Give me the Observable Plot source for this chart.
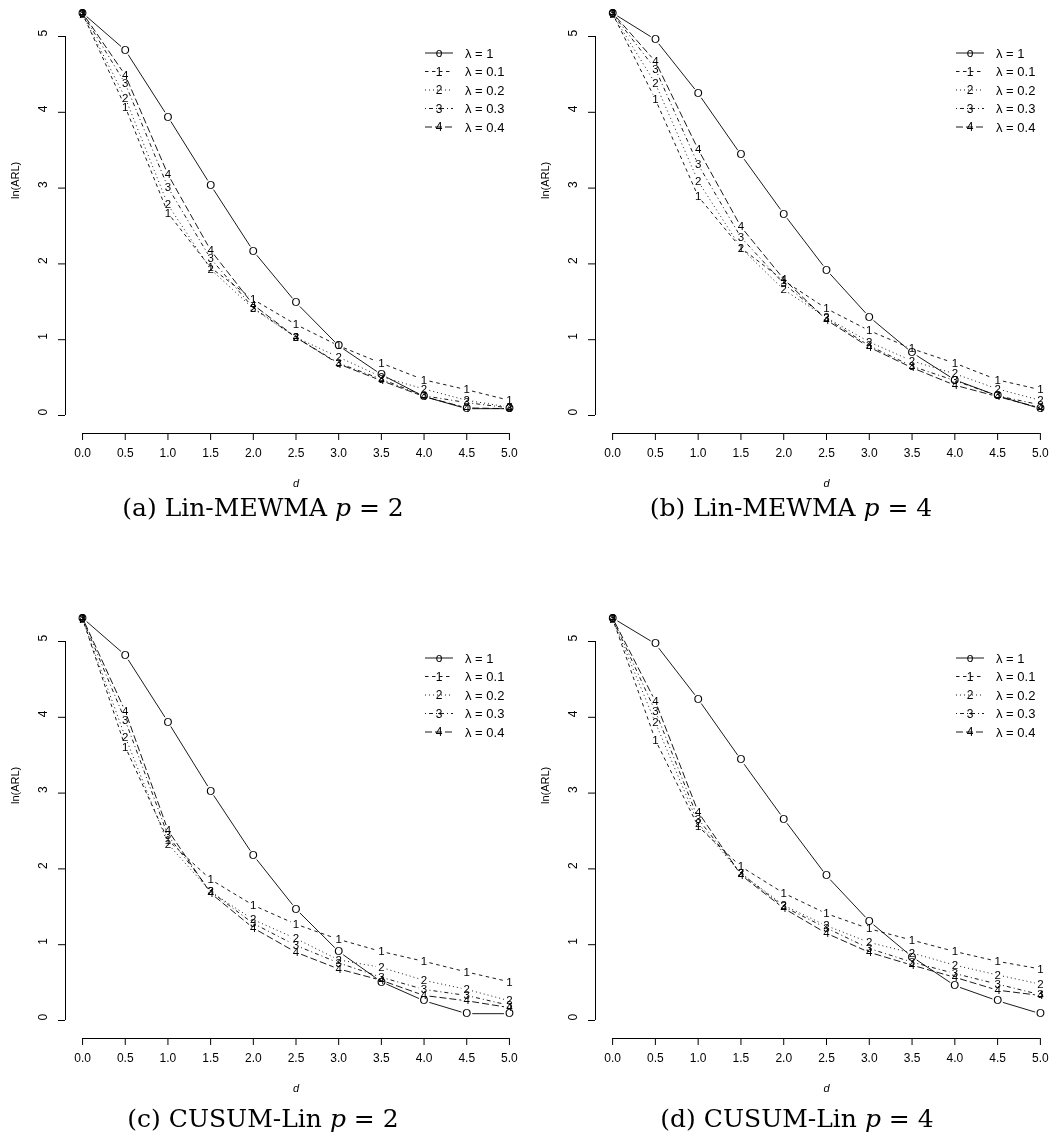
<!DOCTYPE html>
<html><head><meta charset="utf-8">
<script src="https://cdn.jsdelivr.net/npm/d3@7"></script>
<script src="https://cdn.jsdelivr.net/npm/@observablehq/plot@0.6"></script>
<style>
body{margin:0;background:#fff;}
#page{position:relative;width:1057px;height:1146px;background:#fff;overflow:hidden;font-family:"Liberation Sans",Arial,sans-serif;filter:grayscale(100%);}
.panel{position:absolute;}
.panel svg{overflow:visible;}
.caption{position:absolute;font-family:"DejaVu Serif",serif;font-size:25px;white-space:nowrap;transform:translate(-50%,-50%);color:#000;}
.legend{position:absolute;overflow:visible;}
</style></head><body><div id="page"></div>
<script>
// ---- data ----
const shifts = [0, 0.5, 1, 1.5, 2, 2.5, 3, 3.5, 4, 4.5, 5];
const seriesNames = ["λ = 1", "λ = 0.1", "λ = 0.2", "λ = 0.3", "λ = 0.4"];
const plotSymbols = ["O", "1", "2", "3", "4"];
const legendSymbols = ["o", "1", "2", "3", "4"];
const xTicks = [0, 0.5, 1, 1.5, 2, 2.5, 3, 3.5, 4, 4.5, 5];
const yTicks = [0, 1, 2, 3, 4, 5];
const captions = ["(a) Lin-MEWMA <i>p</i> = 2", "(b) Lin-MEWMA <i>p</i> = 4", "(c) CUSUM-Lin <i>p</i> = 2", "(d) CUSUM-Lin <i>p</i> = 4"];

// (a) Lin-MEWMA p=2
const a1  = [5.31, 4.82, 3.94, 3.04, 2.17, 1.49, 0.92, 0.54, 0.25, 0.09, 0.09];
const a01 = [5.30, 4.07, 2.67, 1.95, 1.53, 1.20, 0.92, 0.69, 0.47, 0.34, 0.20];
const a02 = [5.29, 4.19, 2.78, 1.93, 1.41, 1.03, 0.77, 0.51, 0.35, 0.20, 0.11];
const a03 = [5.30, 4.38, 3.01, 2.07, 1.42, 1.03, 0.69, 0.48, 0.26, 0.17, 0.10];
const a04 = [5.31, 4.49, 3.18, 2.18, 1.46, 1.03, 0.68, 0.46, 0.25, 0.10, 0.09];
// (b) Lin-MEWMA p=4
const b1  = [5.31, 4.96, 4.25, 3.44, 2.66, 1.92, 1.30, 0.83, 0.47, 0.26, 0.09];
const b01 = [5.30, 4.17, 2.89, 2.21, 1.78, 1.41, 1.12, 0.88, 0.69, 0.47, 0.34];
const b02 = [5.29, 4.38, 3.09, 2.21, 1.66, 1.29, 0.97, 0.72, 0.55, 0.35, 0.20];
const b03 = [5.30, 4.57, 3.31, 2.35, 1.74, 1.28, 0.92, 0.65, 0.46, 0.26, 0.14];
const b04 = [5.31, 4.67, 3.51, 2.49, 1.80, 1.26, 0.90, 0.63, 0.40, 0.25, 0.10];
// (c) CUSUM-Lin p=2
const c1  = [5.31, 4.82, 3.94, 3.03, 2.18, 1.47, 0.91, 0.51, 0.26, 0.09, 0.09];
const c01 = [5.30, 3.61, 2.38, 1.86, 1.52, 1.27, 1.07, 0.91, 0.78, 0.64, 0.51];
const c02 = [5.29, 3.74, 2.33, 1.70, 1.33, 1.08, 0.80, 0.70, 0.53, 0.41, 0.26];
const c03 = [5.30, 3.96, 2.44, 1.70, 1.28, 0.99, 0.76, 0.57, 0.41, 0.33, 0.20];
const c04 = [5.31, 4.08, 2.51, 1.68, 1.22, 0.90, 0.68, 0.53, 0.33, 0.26, 0.17];
// (d) CUSUM-Lin p=4
const d1  = [5.31, 4.97, 4.24, 3.44, 2.66, 1.91, 1.31, 0.84, 0.46, 0.26, 0.09];
const d01 = [5.30, 3.70, 2.56, 2.03, 1.68, 1.41, 1.21, 1.06, 0.91, 0.78, 0.68];
const d02 = [5.29, 3.93, 2.60, 1.94, 1.52, 1.25, 1.03, 0.89, 0.73, 0.60, 0.48];
const d03 = [5.30, 4.08, 2.66, 1.94, 1.50, 1.22, 0.95, 0.77, 0.62, 0.48, 0.34];
const d04 = [5.31, 4.21, 2.75, 1.92, 1.48, 1.15, 0.90, 0.73, 0.57, 0.40, 0.33];

// ---- styles / layout ----
const dashes = [null, "3.5,3.5", "1,3", "1,3,4,3", "7,3"];
const xDomain = [-0.2, 5.2];
const yDomain = [-0.2375, 5.475];
const panels = [
  {left: 0,   top: 0,   width: 528, ml: 65, mr: 2, series: [a1, a01, a02, a03, a04], cap: captions[0], capX: 263, capY: 507},
  {left: 528, top: 0,   width: 529, ml: 67, mr: 0, series: [b1, b01, b02, b03, b04], cap: captions[1], capX: 263, capY: 507},
  {left: 0,   top: 605, width: 528, ml: 65, mr: 2, series: [c1, c01, c02, c03, c04], cap: captions[2], capX: 263, capY: 513},
  {left: 528, top: 605, width: 529, ml: 67, mr: 0, series: [d1, d01, d02, d03, d04], cap: captions[3], capX: 269, capY: 513}
];

function gapLinks(svg, gap) {
  svg.querySelectorAll('g[aria-label="link"] path').forEach(p => {
    const n = (p.getAttribute("d").match(/-?\d*\.?\d+(?:e[-+]?\d+)?/gi) || []).map(Number);
    if (n.length !== 4) return;
    const [x1, y1, x2, y2] = n;
    const dx = x2 - x1, dy = y2 - y1, len = Math.hypot(dx, dy);
    if (len <= 2 * gap) { p.remove(); return; }
    const ux = dx / len, uy = dy / len;
    p.setAttribute("d", `M${x1 + ux * gap},${y1 + uy * gap}L${x2 - ux * gap},${y2 - uy * gap}`);
  });
}

const page = document.getElementById("page");

panels.forEach((pn) => {
  const div = document.createElement("div");
  div.className = "panel";
  div.style.left = pn.left + "px";
  div.style.top = pn.top + "px";
  div.style.width = pn.width + "px";
  div.style.height = "540px";

  const marks = [];
  pn.series.forEach((vals, si) => {
    const pts = shifts.map((x, i) => ({x, y: vals[i]}));
    const segs = d3.pairs(pts).map(([p, q]) => ({x1: p.x, y1: p.y, x2: q.x, y2: q.y}));
    const opts = {x1: "x1", y1: "y1", x2: "x2", y2: "y2", stroke: "#000", strokeWidth: 0.9};
    if (dashes[si]) opts.strokeDasharray = dashes[si];
    marks.push(Plot.link(segs, opts));
    marks.push(Plot.text(pts, {x: "x", y: "y", text: () => plotSymbols[si], fontSize: 11.5, fill: "#000"}));
  });
  // axes
  marks.push(Plot.ruleY([yDomain[0]], {x1: xTicks[0], x2: xTicks[xTicks.length - 1], stroke: "#000", strokeWidth: 1}));
  marks.push(Plot.axisX({ticks: xTicks, tickFormat: d3.format(".1f"), tickSize: 7, tickPadding: 8, fontSize: 12, label: null}));
  marks.push(Plot.ruleX([xDomain[0]], {y1: yTicks[0], y2: yTicks[yTicks.length - 1], stroke: "#000", strokeWidth: 1}));
  marks.push(Plot.axisY({ticks: yTicks, tickSize: 7, tickFormat: () => "", label: null}));
  marks.push(Plot.text(yTicks, {y: d => d, text: d => String(d), frameAnchor: "left", dx: -22, rotate: -90, fontSize: 12, fill: "#000"}));
  marks.push(Plot.text(["ln(ARL)"], {text: d => d, frameAnchor: "left", dx: -50, dy: -18, rotate: -90, fontSize: 11, fill: "#000"}));
  marks.push(Plot.text(["d"], {text: d => d, frameAnchor: "bottom", dy: 53, fontSize: 11, fontStyle: "italic", fill: "#000"}));

  const chart = Plot.plot({
    width: pn.width,
    height: 500,
    marginLeft: pn.ml,
    marginRight: pn.mr,
    marginTop: 0,
    marginBottom: 67,
    x: {domain: xDomain},
    y: {domain: yDomain},
    style: {fontFamily: "'Liberation Sans', Arial, sans-serif", fontSize: "12px", color: "#000", background: "#fff", overflow: "visible"},
    marks
  });
  gapLinks(chart, 5.5);
  div.appendChild(chart);

  // legend (inside plot area, top right)
  const frameRight = pn.width - pn.mr;
  const lx0 = frameRight - 101, lx1 = frameRight - 73, tx = frameRight - 61;
  const ns = "http://www.w3.org/2000/svg";
  const lg = document.createElementNS(ns, "svg");
  lg.setAttribute("class", "legend");
  lg.setAttribute("width", pn.width);
  lg.setAttribute("height", 160);
  lg.style.left = "0px"; lg.style.top = "0px";
  seriesNames.forEach((name, i) => {
    const y = 53 + i * 18.5;
    const line = document.createElementNS(ns, "line");
    line.setAttribute("x1", lx0); line.setAttribute("x2", lx1);
    line.setAttribute("y1", y); line.setAttribute("y2", y);
    line.setAttribute("stroke", "#000"); line.setAttribute("stroke-width", 0.9);
    if (dashes[i]) line.setAttribute("stroke-dasharray", dashes[i]);
    lg.appendChild(line);
    const sym = document.createElementNS(ns, "text");
    sym.setAttribute("x", (lx0 + lx1) / 2); sym.setAttribute("y", y);
    sym.setAttribute("text-anchor", "middle"); sym.setAttribute("dy", "0.35em");
    sym.setAttribute("font-size", 12); sym.setAttribute("font-family", "Liberation Sans, Arial, sans-serif");
    sym.textContent = legendSymbols[i];
    lg.appendChild(sym);
    const t = document.createElementNS(ns, "text");
    t.setAttribute("x", tx); t.setAttribute("y", y);
    t.setAttribute("dy", "0.35em");
    t.setAttribute("font-size", 13); t.setAttribute("font-family", "Liberation Sans, Arial, sans-serif");
    t.textContent = name;
    lg.appendChild(t);
  });
  div.appendChild(lg);

  const cap = document.createElement("div");
  cap.className = "caption";
  cap.style.left = pn.capX + "px";
  cap.style.top = pn.capY + "px";
  cap.innerHTML = pn.cap;
  div.appendChild(cap);

  page.appendChild(div);
});
</script>
</body></html>
